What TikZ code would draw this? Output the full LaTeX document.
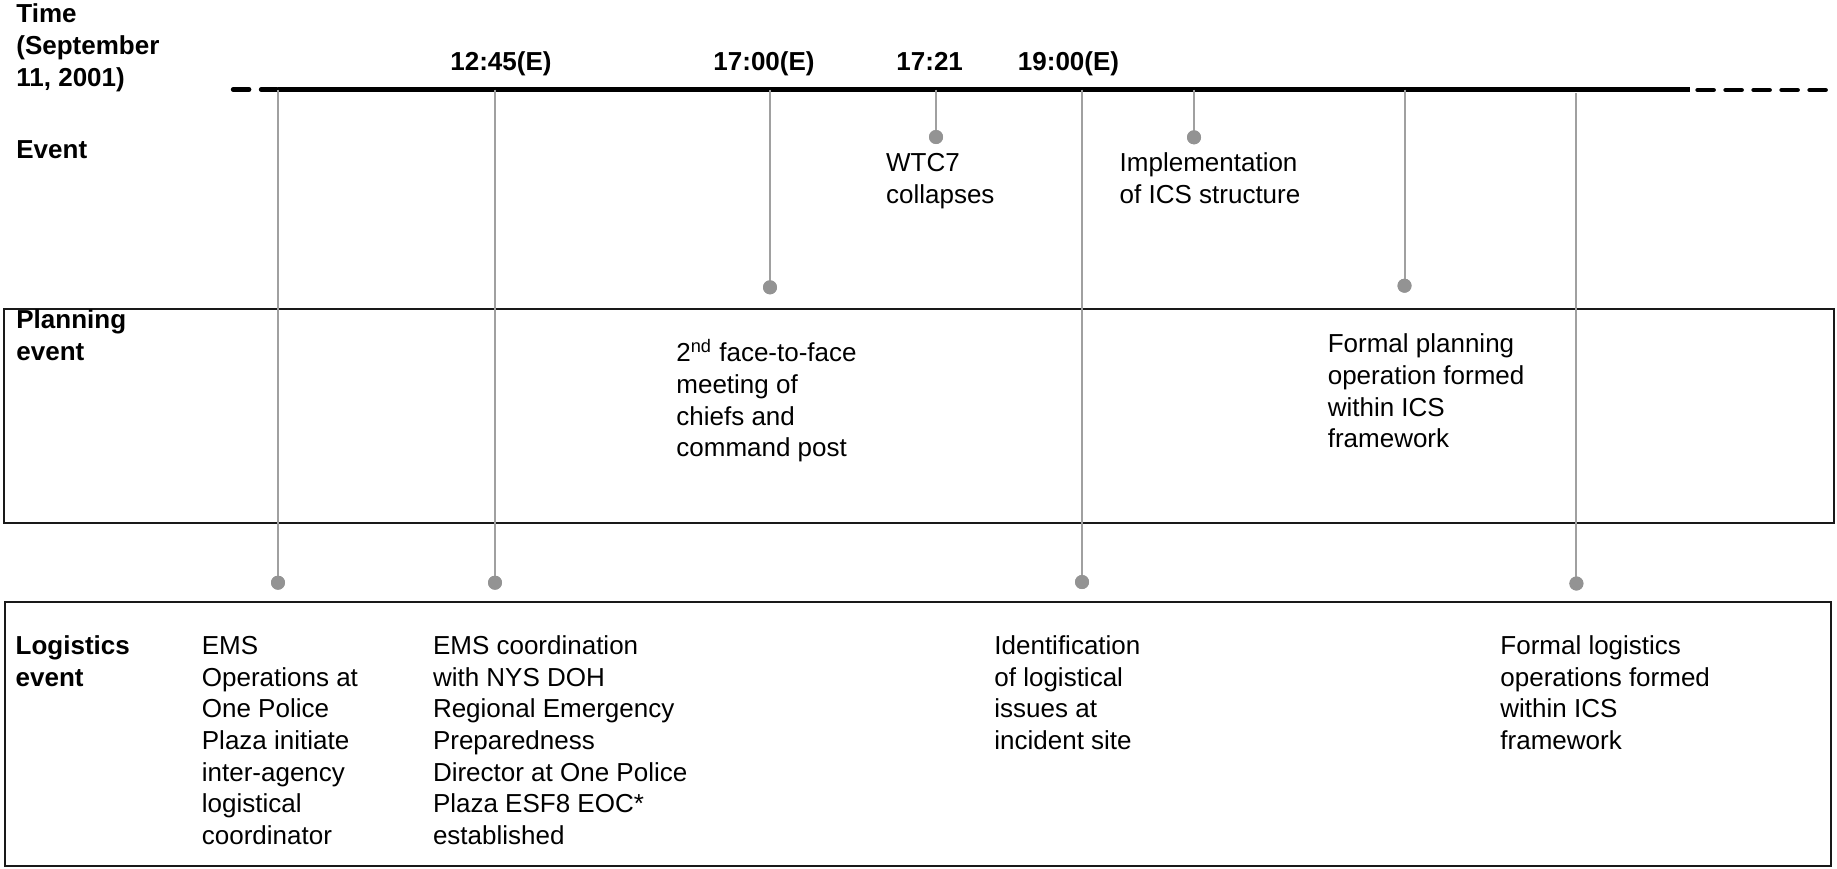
\documentclass[tikz,border=0pt]{standalone}
\usepackage{fontspec}
\setmainfont{Liberation Sans}
\newcommand{\mlines}[1]{\begin{tabular}[t]{@{}l@{}}#1\end{tabular}}
\definecolor{linegray}{HTML}{A0A0A0}
\definecolor{dotgray}{HTML}{939393}
\begin{document}
\begin{tikzpicture}[x=0.5pt,y=-0.5pt,
  txt/.style={anchor=base west, inner sep=0pt, font=\fontsize{13}{15.85}\selectfont},
  lbl/.style={anchor=base west, inner sep=0pt, font=\fontsize{13}{15.9}\selectfont\bfseries},
  tlbl/.style={anchor=base, inner sep=0pt, font=\fontsize{13}{15.85}\selectfont\bfseries},
  vline/.style={draw=linegray, line width=1pt},
  dot/.style={circle, fill=dotgray, inner sep=0pt, minimum size=7pt},
  boxline/.style={draw=black!90, line width=1pt},
  axis/.style={line width=2.15pt},
  axisdash/.style={line width=2.15pt, dash pattern=on 8.1pt off 5.9pt, line cap=round}
]
\useasboundingbox (0,0) rectangle (1837,868);

% boxes
\draw[boxline] (4,309.3) rectangle (1834,523.3);
\draw[boxline] (5,601.7) rectangle (1831,866);

% timeline
\coordinate (axL0) at (233,89.5);
\coordinate (axL) at (278,89.5);
\coordinate (axR) at (1690,89.5);
\coordinate (axR0) at (1697.5,90);
\coordinate (axR1) at (1826,90);
\draw[axisdash] (axL0) -- (axL);
\draw[axis] (axL) -- (axR);
\draw[axisdash] (axR0) -- (axR1);

% row labels
\node[lbl] (ltime) at (16,22.7) {\mlines{Time\\(September\\11, 2001)}};
\node[lbl] (levent) at (16,158.3) {Event};
\node[lbl] (lplan) at (16,328.3) {\mlines{Planning\\event}};
\node[lbl] (llog) at (15.3,654.3) {\mlines{Logistics\\event}};

% time labels
\node[tlbl] (t1245) at (501,70) {12:45(E)};
\node[tlbl] (t1700) at (764,70) {17:00(E)};
\node[tlbl] (t1721) at (929.7,70) {17:21};
\node[tlbl] (t1900) at (1068.5,70) {19:00(E)};

% stems: top coordinates on the timeline
\coordinate (s1) at (278,89.5);
\coordinate (s2) at (495,89.5);
\coordinate (s3) at (770,89.5);
\coordinate (s4) at (936,89.5);
\coordinate (s5) at (1082,89.5);
\coordinate (s6) at (1194,89.5);
\coordinate (s7) at (1404.5,89.5);
\coordinate (s8) at (1576.4,93);

% dots
\node[dot] (d1) at (278,582.7) {};
\node[dot] (d2) at (495,582.7) {};
\node[dot] (d3) at (770,287.3) {};
\node[dot] (d4) at (936,137) {};
\node[dot] (d5) at (1082,582) {};
\node[dot] (d6) at (1194,137.3) {};
\node[dot] (d7) at (1404.5,285.7) {};
\node[dot] (d8) at (1576.4,583.5) {};

\foreach \i in {1,...,8} {\draw[vline] (s\i) -- (d\i.center);}
\foreach \i in {1,...,8} {\node[dot] at (d\i) {};}

% event texts
\node[txt] (e1) at (885.7,171.7) {\mlines{WTC7\\collapses}};
\node[txt] (e2) at (1119.3,171.7) {\mlines{Implementation\\of ICS structure}};

% planning texts
\node[txt] (p1) at (676,361.7) {\mlines{2\textsuperscript{nd} face-to-face\\meeting of\\chiefs and\\command post}};
\node[txt] (p2) at (1327.4,352.7) {\mlines{Formal planning\\operation formed\\within ICS\\framework}};

% logistics texts
\node[txt] (g1) at (201.5,654.3) {\mlines{EMS\\Operations at\\One Police\\Plaza initiate\\inter-agency\\logistical\\coordinator}};
\node[txt] (g2) at (432.6,654.3) {\mlines{EMS coordination\\with NYS DOH\\Regional Emergency\\Preparedness\\Director at One Police\\Plaza ESF8 EOC*\\established}};
\node[txt] (g3) at (994,654.3) {\mlines{Identification\\of logistical\\issues at\\incident site}};
\node[txt] (g4) at (1500,654.3) {\mlines{Formal logistics\\operations formed\\within ICS\\framework}};
\end{tikzpicture}
\end{document}
